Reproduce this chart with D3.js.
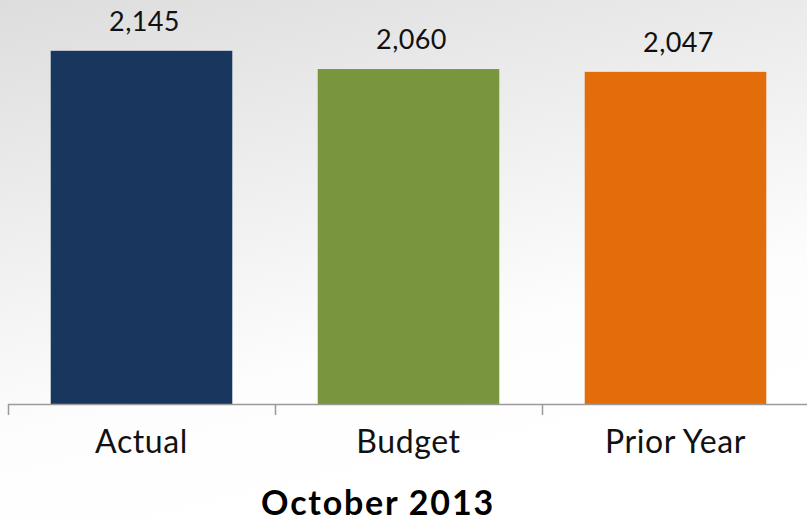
<!DOCTYPE html>
<html>
<head>
<meta charset="utf-8">
<script src="https://cdn.jsdelivr.net/npm/d3@7"></script>
<style>
  html, body { margin: 0; padding: 0; background: #fff; }
  svg { display: block; }
</style>
</head>
<body>
<svg id="chart" width="807" height="523"></svg>
<script>
// Monthly comparison: actual vs budget vs prior year
const categories = ["Actual", "Budget", "Prior Year"];
const values = [2145, 2060, 2047];
const barColors = ["#19375e", "#79953e", "#e36c0b"];
const title = "October 2013";

const width = 807, height = 523;
const svg = d3.select("#chart");

// soft grey-to-white backdrop
const defs = svg.append("defs");
const grad = defs.append("linearGradient")
  .attr("id", "bg").attr("x1", "0").attr("y1", "0").attr("x2", "0.35").attr("y2", "1");
grad.append("stop").attr("offset", "0").attr("stop-color", "#dddddd");
grad.append("stop").attr("offset", "0.75").attr("stop-color", "#fdfdfd");
grad.append("stop").attr("offset", "1").attr("stop-color", "#ffffff");
svg.append("rect").attr("width", width).attr("height", height).attr("fill", "url(#bg)");

const x = d3.scaleBand()
  .domain(categories)
  .range([8, 809])
  .paddingInner(0.32)
  .paddingOuter(0.16);

const y = d3.scaleLinear()
  .domain([500, 2200])
  .range([404, 39]);

const fontFamily = "Lato, 'Open Sans', sans-serif";

// bars
svg.append("g").selectAll("rect")
  .data(categories)
  .join("rect")
  .attr("x", d => x(d))
  .attr("width", x.bandwidth())
  .attr("y", (d, i) => y(values[i]))
  .attr("height", (d, i) => y.range()[0] - y(values[i]))
  .attr("fill", (d, i) => barColors[i]);

// value labels
const fmt = d3.format(",");
svg.append("g").selectAll("text")
  .data(categories)
  .join("text")
  .attr("x", d => x(d) + x.bandwidth() / 2 + 3)
  .attr("y", (d, i) => y(values[i]) - 20)
  .attr("text-anchor", "middle")
  .attr("font-family", fontFamily)
  .attr("font-size", 27)
  .attr("letter-spacing", 0.4)
  .attr("fill", "#111")
  .text((d, i) => fmt(values[i]));

// category axis with ticks at band edges
const step = x.step();
const edges = d3.range(categories.length).map(i => x.range()[0] + i * step);
const axisG = svg.append("g");
axisG.append("line")
  .attr("x1", x.range()[0]).attr("x2", width)
  .attr("y1", 404.5).attr("y2", 404.5)
  .attr("stroke", "#9a9a9a").attr("stroke-width", 1.5);
axisG.selectAll("line.tick")
  .data(edges)
  .join("line")
  .attr("class", "tick")
  .attr("x1", d => d + 0.5).attr("x2", d => d + 0.5)
  .attr("y1", 404).attr("y2", 415)
  .attr("stroke", "#9a9a9a").attr("stroke-width", 1.5);

axisG.selectAll("text")
  .data(categories)
  .join("text")
  .attr("x", d => x(d) + x.bandwidth() / 2)
  .attr("y", 453)
  .attr("text-anchor", "middle")
  .attr("font-family", fontFamily)
  .attr("font-size", 32)
  .attr("letter-spacing", 0.6)
  .attr("fill", "#111")
  .text(d => d);

// axis title
svg.append("text")
  .attr("x", 378)
  .attr("y", 515)
  .attr("text-anchor", "middle")
  .attr("font-family", fontFamily)
  .attr("font-weight", "bold")
  .attr("font-size", 34)
  .attr("letter-spacing", 1.8)
  .attr("fill", "#000")
  .text(title);
</script>
</body>
</html>
